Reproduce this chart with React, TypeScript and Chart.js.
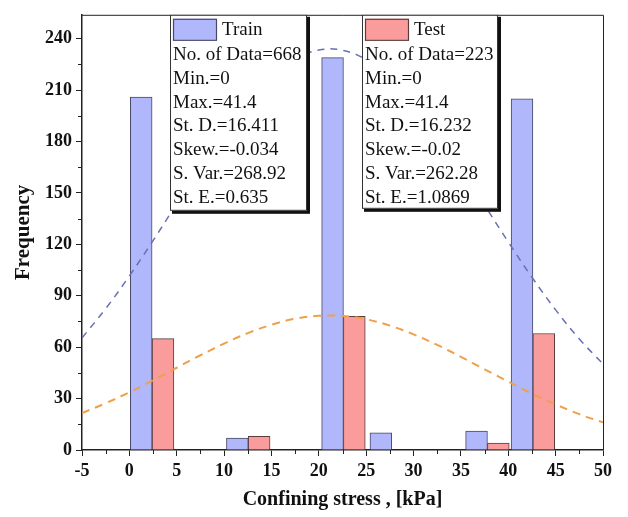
import React, { useEffect, useRef } from 'react';
import { Chart, registerables } from 'chart.js';

Chart.register(...registerables);

const TRAIN_LABEL = 'Train';
const TEST_LABEL = 'Test';

// Histogram bins (centre of each bar, kPa) and counts
const TRAIN_BIN_CENTERS = [1.25, 11.4, 21.45, 26.55, 36.65, 41.45];
const TRAIN_COUNTS = [206, 7, 229, 10, 11, 205];
const TEST_BIN_CENTERS = [3.55, 13.7, 23.75, 38.95, 43.75];
const TEST_COUNTS = [65, 8, 78, 4, 68];

// Fitted normal curves
const CURVE_X = [-5, -2.5, 0, 2.5, 5, 7.5, 10, 12.5, 15, 17.5, 20, 22.5, 25, 27.5, 30, 32.5, 35, 37.5, 40, 42.5, 45, 47.5, 50];
const TRAIN_CURVE = [65.4, 82.5, 101.6, 122.2, 143.8, 165.1, 185.4, 203.3, 217.9, 228.1, 233.4, 233.3, 227.8, 217.4, 202.7, 184.6, 164.3, 142.9, 121.4, 100.8, 81.8, 64.8, 50.2];
const TEST_CURVE = [21.6, 27.3, 33.7, 40.7, 48.0, 55.3, 62.1, 68.2, 73.1, 76.6, 78.3, 78.2, 76.3, 72.6, 67.5, 61.3, 54.4, 47.1, 39.9, 32.9, 26.6, 20.9, 16.1];

const X_TICKS = [-5, 0, 5, 10, 15, 20, 25, 30, 35, 40, 45, 50];
const Y_TICKS = [0, 30, 60, 90, 120, 150, 180, 210, 240];
const X_MIN = -5;
const X_MAX = 50;
const Y_MIN = 0;
const Y_MAX = 254;

const X_TITLE = 'Confining stress , [kPa]';
const Y_TITLE = 'Frequency';

const TRAIN_STATS = ['No. of Data=668', 'Min.=0', 'Max.=41.4', 'St. D.=16.411', 'Skew.=-0.034', 'S. Var.=268.92', 'St. E.=0.635'];
const TEST_STATS = ['No. of Data=223', 'Min.=0', 'Max.=41.4', 'St. D.=16.232', 'Skew.=-0.02', 'S. Var.=262.28', 'St. E.=1.0869'];

const TRAIN_FILL = 'rgb(176,183,250)';
const TRAIN_BORDER = 'rgb(70,72,100)';
const TEST_FILL = 'rgb(250,156,156)';
const TEST_BORDER = 'rgb(90,60,60)';
const TRAIN_LINE = 'rgb(105,112,180)';
const TEST_LINE = 'rgb(238,160,75)';
const AXIS = '#222';
const FONT = "'Liberation Serif', 'Times New Roman', serif";

const minorTicks = {
  id: 'minorTicks',
  afterDatasetsDraw(chart: any) {
    const { ctx, chartArea, scales } = chart;
    ctx.save();
    ctx.strokeStyle = AXIS;
    ctx.lineWidth = 1;
    // frame (top + right)
    ctx.beginPath();
    ctx.moveTo(chartArea.left, chartArea.top + 0.5);
    ctx.lineTo(chartArea.right + 0.5, chartArea.top + 0.5);
    ctx.lineTo(chartArea.right + 0.5, chartArea.bottom);
    ctx.stroke();
    ctx.beginPath();
    for (let i = 0; i < X_TICKS.length - 1; i++) {
      const px = Math.round(scales.x.getPixelForValue((X_TICKS[i] + X_TICKS[i + 1]) / 2)) + 0.5;
      ctx.moveTo(px, chartArea.bottom);
      ctx.lineTo(px, chartArea.bottom + 4);
    }
    for (let i = 0; i < Y_TICKS.length - 1; i++) {
      const py = Math.round(scales.y.getPixelForValue((Y_TICKS[i] + Y_TICKS[i + 1]) / 2)) + 0.5;
      ctx.moveTo(chartArea.left, py);
      ctx.lineTo(chartArea.left - 4, py);
    }
    ctx.stroke();
    ctx.restore();
  },
};

function drawBox(ctx: CanvasRenderingContext2D, x: number, y: number, w: number, h: number, fill: string, border: string, label: string, lines: string[]) {
  ctx.save();
  ctx.fillStyle = '#111';
  ctx.fillRect(x + 2, y + 2, w + 1, h + 1);
  ctx.fillStyle = '#fff';
  ctx.fillRect(x, y, w, h);
  ctx.strokeStyle = '#333';
  ctx.lineWidth = 1;
  ctx.strokeRect(x + 0.5, y + 0.5, w - 1, h - 1);
  ctx.fillStyle = fill;
  ctx.fillRect(x + 3, y + 4, 43, 21);
  ctx.strokeStyle = border;
  ctx.lineWidth = 1.2;
  ctx.strokeRect(x + 3.5, y + 4.5, 43, 21);
  ctx.fillStyle = '#111';
  ctx.font = `19px ${FONT}`;
  ctx.textBaseline = 'middle';
  ctx.textAlign = 'left';
  ctx.fillText(label, x + 52, y + 15);
  lines.forEach((t, i) => {
    ctx.fillText(t, x + 3, y + 40 + i * 23.9);
  });
  ctx.restore();
}

const statBoxes = {
  id: 'statBoxes',
  afterDraw(chart: any) {
    const { ctx, chartArea } = chart;
    const top = chartArea.top;
    drawBox(ctx, 170, top, 137, 196, TRAIN_FILL, TRAIN_BORDER, TRAIN_LABEL, TRAIN_STATS);
    drawBox(ctx, 362, top, 136, 194, TEST_FILL, TEST_BORDER, TEST_LABEL, TEST_STATS);
  },
};

export default function App() {
  const ref = useRef<HTMLCanvasElement>(null);
  useEffect(() => {
    if (!ref.current) return;
    const chart = new Chart(ref.current, {
      type: 'bar',
      data: {
        datasets: [
          {
            type: 'line',
            label: TRAIN_LABEL + ' fit',
            data: CURVE_X.map((x, i) => ({ x, y: TRAIN_CURVE[i] })),
            borderColor: TRAIN_LINE,
            borderWidth: 1.5,
            borderDash: [7, 6],
            pointRadius: 0,
            tension: 0.4,
            fill: false,
            order: 0,
          } as any,
          {
            type: 'line',
            label: TEST_LABEL + ' fit',
            data: CURVE_X.map((x, i) => ({ x, y: TEST_CURVE[i] })),
            borderColor: TEST_LINE,
            borderWidth: 2,
            borderDash: [8, 6],
            pointRadius: 0,
            tension: 0.4,
            fill: false,
            order: 0,
          } as any,
          {
            type: 'bar',
            label: TRAIN_LABEL,
            data: TRAIN_BIN_CENTERS.map((x, i) => ({ x, y: TRAIN_COUNTS[i] })),
            backgroundColor: TRAIN_FILL,
            borderColor: TRAIN_BORDER,
            borderWidth: 1,
            grouped: false,
            barPercentage: 1,
            categoryPercentage: 1,
            order: 1,
          } as any,
          {
            type: 'bar',
            label: TEST_LABEL,
            data: TEST_BIN_CENTERS.map((x, i) => ({ x, y: TEST_COUNTS[i] })),
            backgroundColor: TEST_FILL,
            borderColor: TEST_BORDER,
            borderWidth: 1,
            grouped: false,
            barPercentage: 1,
            categoryPercentage: 1,
            order: 1,
          } as any,
        ],
      },
      options: {
        responsive: false,
        animation: false,
        layout: { padding: { top: 9, right: 25, left: 0, bottom: 0 } },
        plugins: { legend: { display: false }, tooltip: { enabled: false } },
        scales: {
          x: {
            type: 'linear',
            offset: false,
            min: X_MIN,
            max: X_MAX,
            afterBuildTicks: (s: any) => { s.ticks = X_TICKS.map((v) => ({ value: v })); },
            afterFit: (s: any) => { s.height = 67; },
            ticks: { color: '#111', font: { family: FONT, weight: 'bold', size: 18 }, padding: 5, maxRotation: 0 },
            grid: { offset: false, drawOnChartArea: false, drawTicks: true, tickLength: 6, tickColor: AXIS, tickWidth: 1 },
            border: { display: true, color: AXIS, width: 1.5 },
            title: { display: true, text: X_TITLE, color: '#111', font: { family: FONT, weight: 'bold', size: 20 }, padding: { top: 0, bottom: 5 } },
          },
          y: {
            type: 'linear',
            min: Y_MIN,
            max: Y_MAX,
            afterBuildTicks: (s: any) => { s.ticks = Y_TICKS.map((v) => ({ value: v })); },
            afterFit: (s: any) => { s.width = 82; },
            ticks: { color: '#111', font: { family: FONT, weight: 'bold', size: 18 }, padding: 4 },
            grid: { drawOnChartArea: false, drawTicks: true, tickLength: 6, tickColor: AXIS, tickWidth: 1 },
            border: { display: true, color: AXIS, width: 1.5 },
            title: { display: true, text: Y_TITLE, color: '#111', font: { family: FONT, weight: 'bold', size: 21 }, padding: { top: 11, bottom: 0 } },
          },
        },
      } as any,
      plugins: [minorTicks, statBoxes],
    });
    return () => chart.destroy();
  }, []);
  return (
    <div style={{ position: 'fixed', left: 0, top: 0, width: 628, height: 517, background: '#fff' }}>
      <canvas ref={ref} width={628} height={517} style={{ display: 'block', width: 628, height: 517 }} />
    </div>
  );
}
